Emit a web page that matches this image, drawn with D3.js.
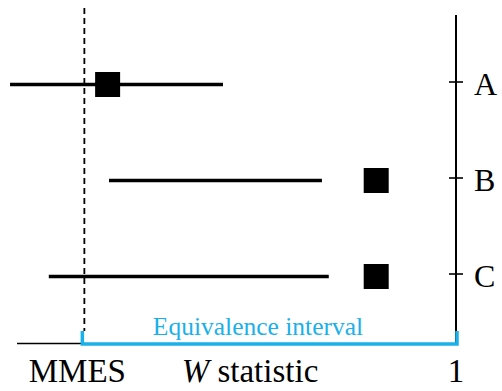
<!DOCTYPE html>
<html><head><meta charset="utf-8">
<script src="https://cdn.jsdelivr.net/npm/d3@7"></script>
<style>
body{margin:0;background:#fff}
svg, svg text, svg tspan{font-family:"Liberation Serif","Times New Roman",Tinos,serif !important}
</style>
</head><body>
<svg id="c" width="502" height="391" font-family="Liberation Serif" style="font-family:'Liberation Serif',serif"></svg>
<script>
const categories = ["A", "B", "C"];
const lower = [0.022, 0.239, 0.107];
const upper = [0.489, 0.706, 0.721];
const estimate = [0.236, 0.825, 0.825];
const mmes = 0.185;
const xTickLabels = ["MMES", "1"];
const xTitle = "statistic";
const intervalLabel = "Equivalence interval";

const cyan = "#1ab0ea";
const serif = '"Liberation Serif", "Times New Roman", Tinos, serif';
const svg = d3.select("#c");
const x = d3.scaleLinear().domain([0, 1]).range([0, 456]);
const y = d3.scalePoint().domain(categories).range([81.5, 273.5]);
const off = 3;

// right axis
const axis = d3.axisRight(y).tickSize(7).tickPadding(12);
const g = svg.append("g").attr("transform", `translate(${x(1)},0)`).call(axis);
g.attr("font-family", "Liberation Serif").attr("font-size", 32);
g.select(".domain").remove();
g.selectAll(".tick line").attr("x1", -7).attr("x2", 7).attr("stroke", "#000").attr("stroke-width", 1.6);
g.selectAll(".tick text").style("font-family", serif).attr("font-size", 32).attr("fill", "#000")
  .attr("dy", "0.42em").attr("x", 18);
svg.append("line").attr("x1", x(1)).attr("x2", x(1)).attr("y1", 15).attr("y2", 344)
  .attr("stroke", "#000").attr("stroke-width", 2);

// baseline left of MMES
svg.append("line").attr("x1", 17).attr("x2", x(mmes) - 2).attr("y1", 343.5).attr("y2", 343.5)
  .attr("stroke", "#000").attr("stroke-width", 1.4);

// dashed MMES line
svg.append("line").attr("x1", x(mmes)).attr("x2", x(mmes)).attr("y1", 8).attr("y2", 331)
  .attr("stroke", "#000").attr("stroke-width", 1.8).attr("stroke-dasharray", "6,4");

// intervals
svg.selectAll("line.ci").data(categories).join("line").attr("class", "ci")
  .attr("x1", (d, i) => x(lower[i])).attr("x2", (d, i) => x(upper[i]))
  .attr("y1", d => y(d) + off).attr("y2", d => y(d) + off)
  .attr("stroke", "#000").attr("stroke-width", 3.3);
const s = 25;
svg.selectAll("rect.pt").data(categories).join("rect").attr("class", "pt")
  .attr("x", (d, i) => x(estimate[i]) - s / 2).attr("y", d => y(d) + off - s / 2)
  .attr("width", s).attr("height", s).attr("fill", "#000");

// equivalence bracket
svg.append("path")
  .attr("d", `M${x(mmes) - 2},331 V344 H${x(1) + 1} V331`)
  .attr("fill", "none").attr("stroke", cyan).attr("stroke-width", 3.5);

const labels = [
  {t: intervalLabel, x: 258, y: 335, size: 25.5, fill: cyan},
  {t: xTickLabels[0], x: x(mmes) - 7, y: 382, size: 33, fill: "#000"},
  {t: xTickLabels[1], x: x(1), y: 382, size: 33, fill: "#000"}
];
svg.selectAll("text.lbl").data(labels).join("text").attr("class", "lbl")
  .attr("x", d => d.x).attr("y", d => d.y).attr("text-anchor", "middle")
  .attr("font-family", "Liberation Serif")
  .style("font-family", serif).attr("font-size", d => d.size).attr("fill", d => d.fill).text(d => d.t);

const t = svg.append("text").attr("x", 250).attr("y", 382).attr("text-anchor", "middle")
  .attr("font-family", "Liberation Serif").style("font-family", serif).attr("font-size", 33);
t.append("tspan").style("font-style", "italic").text("W");
t.append("tspan").text(" " + xTitle);
</script>
</body></html>
